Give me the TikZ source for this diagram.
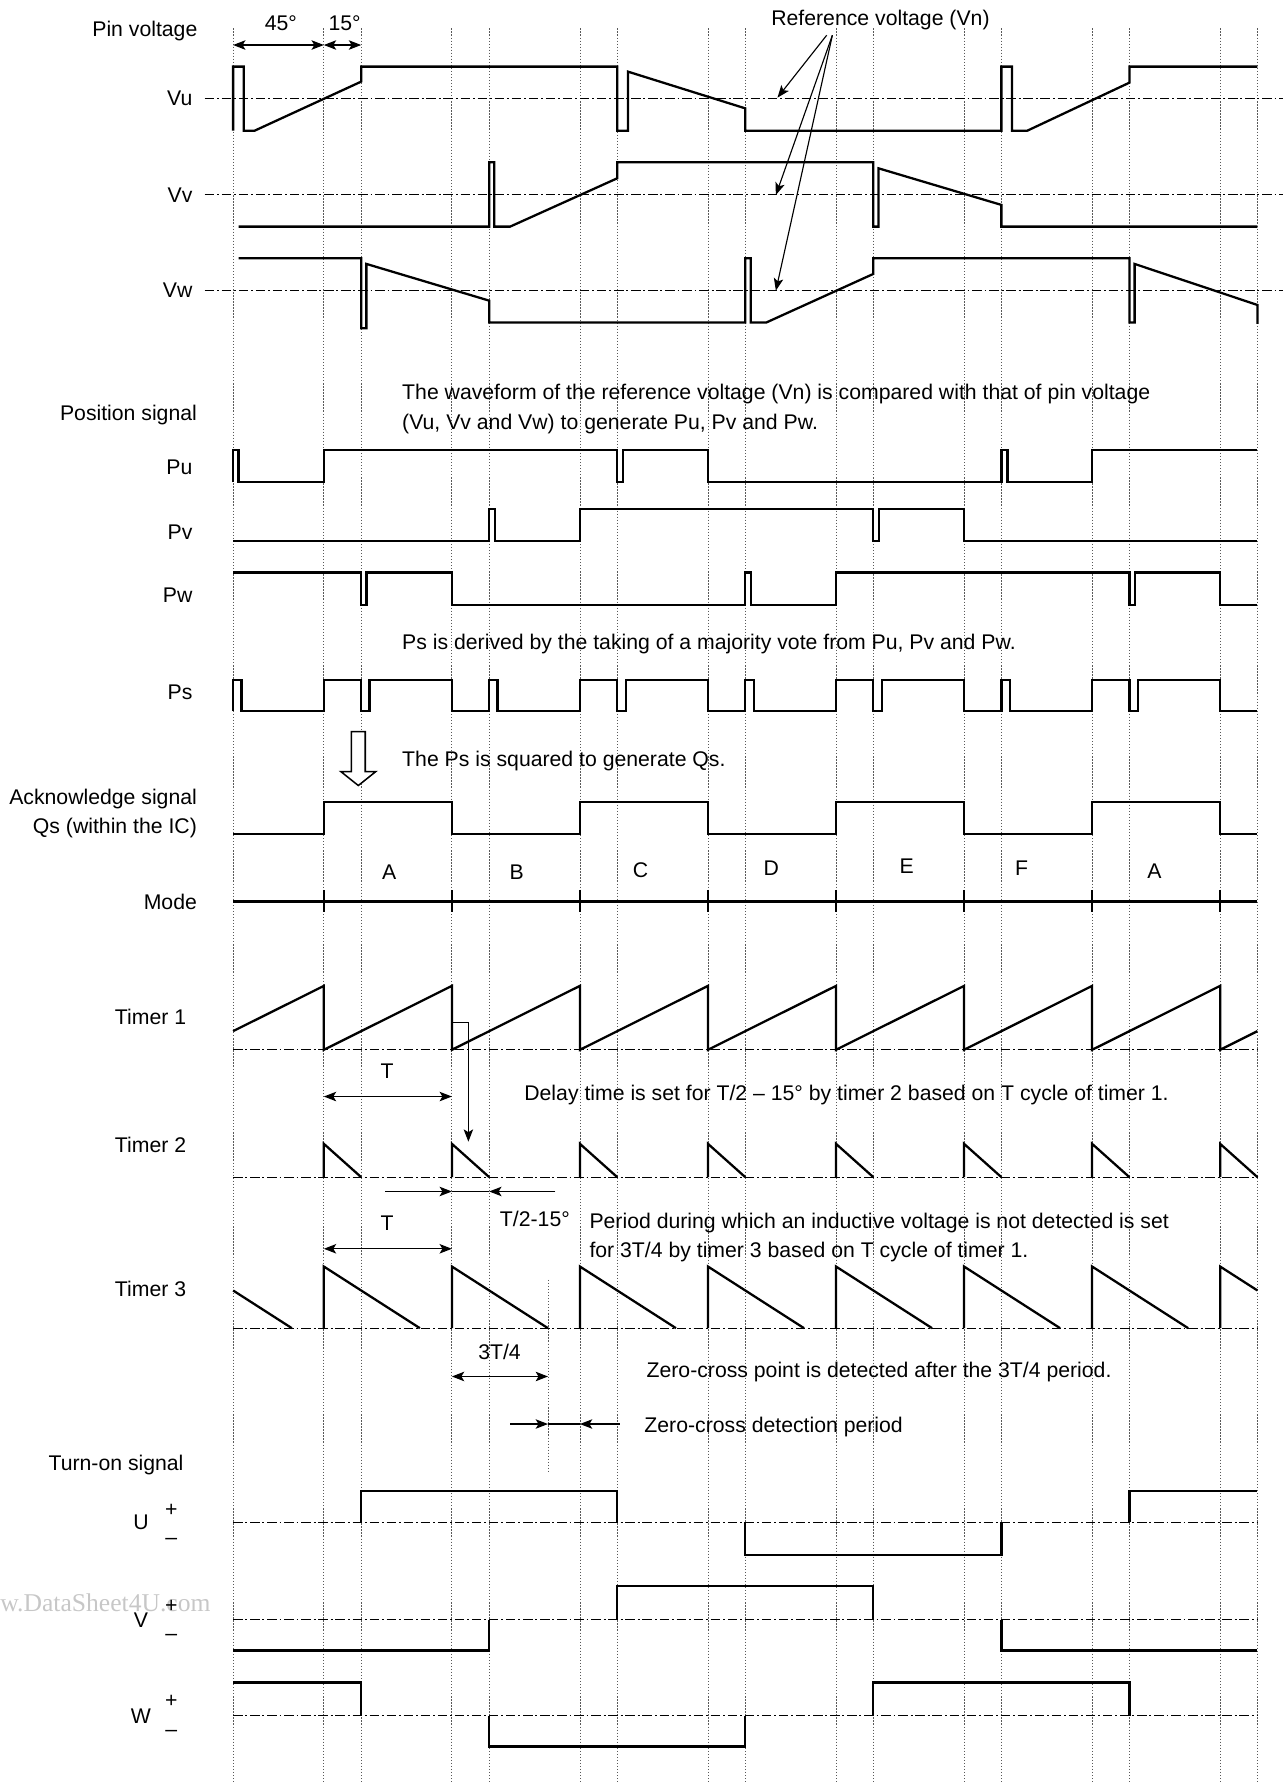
\documentclass[tikz,border=0pt]{standalone}
\usepackage{fontspec}
\setmainfont{Liberation Sans}
\newfontfamily\wmfont{Liberation Serif}
\usetikzlibrary{arrows.meta}
\begin{document}
\begin{tikzpicture}[x=0.6pt,y=-0.6pt,
  every node/.style={font=\fontsize{11.2}{13}\selectfont, inner sep=0pt, text height=8pt, text depth=0pt},
  >={Stealth[length=6.5pt,width=5pt,inset=1.5pt]},
  wave/.style={line width=1.2pt},
  refline/.style={line width=0.6pt, dash pattern=on 5pt off 1.5pt on 1pt off 1.5pt},
  gridline/.style={line width=0.45pt, black!65, dash pattern=on 0.7pt off 0.9pt},
  dim/.style={line width=0.6pt},
  thinline/.style={line width=0.5pt}]
\useasboundingbox (0,0) rectangle (1129,1568);
% grid
\foreach \x in {205,284.8,317.6,397.4,430.2,510,542.8,622.6,655.4,735.2,768,847.8,880.6,960.4,993.2,1073,1105.8}
  \draw[gridline] (\x,25) -- (\x,1568);
\draw[gridline] (481.9,1125.5) -- (481.9,1294);
% watermark
\node[anchor=west, font=\wmfont\fontsize{13.5}{15}\selectfont, text=black!22] (wm) at (0,1410.4) {w.DataSheet4U.com};
% reference lines
\draw[refline] (180,86.5) -- (1128,86.5);
\draw[refline] (180,170.9) -- (1128,170.9);
\draw[refline] (180,255.3) -- (1128,255.3);
% pin voltages
\draw[wave] (205,114.9) -- (205,58.6) -- (214.3,58.6) -- (214.3,114.9) -- (224,114.9) -- (317.6,71.8) -- (317.6,58.6) -- (542.8,58.6) -- (542.8,114.9) -- (552.2,114.9) -- (552.2,63) -- (655.4,95.3) -- (655.4,114.9) -- (880.6,114.9) -- (880.6,58.6) -- (889.9,58.6) -- (889.9,114.9) -- (903.5,114.9) -- (993.2,72.7) -- (993.2,58.6) -- (1105.8,58.6);
\draw[wave] (209.8,199.3) -- (430.2,199.3) -- (430.2,142.7) -- (434.7,142.7) -- (434.7,199.3) -- (448.6,199.3) -- (542.8,156.8) -- (542.8,142.7) -- (768,142.7) -- (768,199.3) -- (772.5,199.3) -- (772.5,148) -- (880.6,180.2) -- (880.6,199.3) -- (1105.8,199.3);
\draw[wave] (209.8,227.1) -- (317.6,227.1) -- (317.6,288.7) -- (322.2,288.7) -- (322.2,232.1) -- (430.2,264.4) -- (430.2,283.7) -- (655.4,283.7) -- (655.4,227.1) -- (660.2,227.1) -- (660.2,283.7) -- (673.7,283.7) -- (768,240.9) -- (768,227.1) -- (993.2,227.1) -- (993.2,283.7) -- (997.8,283.7) -- (997.8,232.1) -- (1105.8,268.2) -- (1105.8,284.9);
% angle dimensions
\draw[dim,<->] (205,39.6) -- (284.8,39.6);
\draw[dim,<->] (284.8,39.6) -- (317.6,39.6);
% reference voltage arrows
\draw[dim,->] (727,31) -- (683.7,85.9);
\draw[dim,->] (732,31) -- (682.3,171.5);
\draw[dim,->] (732,31) -- (682.3,255.6);
% position signals
\draw[wave] (205,424.1) -- (205,395.7) -- (209.8,395.7) -- (209.8,424.1) -- (284.8,424.1) -- (284.8,395.7) -- (542.8,395.7) -- (542.8,424.1) -- (547.7,424.1) -- (547.7,395.7) -- (622.6,395.7) -- (622.6,424.1) -- (880.6,424.1) -- (880.6,395.7) -- (886,395.7) -- (886,424.1) -- (960.4,424.1) -- (960.4,395.7) -- (1105.8,395.7);
\draw[wave] (205,475.7) -- (430.2,475.7) -- (430.2,447.8) -- (435.2,447.8) -- (435.2,475.7) -- (510,475.7) -- (510,447.8) -- (768,447.8) -- (768,475.7) -- (773.1,475.7) -- (773.1,447.8) -- (847.8,447.8) -- (847.8,475.7) -- (1105.8,475.7);
\draw[wave] (205,503.5) -- (317.6,503.5) -- (317.6,532) -- (322.2,532) -- (322.2,503.5) -- (397.4,503.5) -- (397.4,532) -- (655.4,532) -- (655.4,503.5) -- (660.3,503.5) -- (660.3,532) -- (735.2,532) -- (735.2,503.5) -- (993.2,503.5) -- (993.2,532) -- (998.4,532) -- (998.4,503.5) -- (1073,503.5) -- (1073,532) -- (1105.8,532);
% Ps
\draw[wave] (205,625.2) -- (205,597.9) -- (212.4,597.9) -- (212.4,625.2) -- (284.8,625.2) -- (284.8,597.9) -- (317.6,597.9) -- (317.6,625.2) -- (325,625.2) -- (325,597.9) -- (397.4,597.9) -- (397.4,625.2) -- (430.2,625.2) -- (430.2,597.9) -- (437.6,597.9) -- (437.6,625.2) -- (510,625.2) -- (510,597.9) -- (542.8,597.9) -- (542.8,625.2) -- (550.2,625.2) -- (550.2,597.9) -- (622.6,597.9) -- (622.6,625.2) -- (655.4,625.2) -- (655.4,597.9) -- (662.8,597.9) -- (662.8,625.2) -- (735.2,625.2) -- (735.2,597.9) -- (768,597.9) -- (768,625.2) -- (775.4,625.2) -- (775.4,597.9) -- (847.8,597.9) -- (847.8,625.2) -- (880.6,625.2) -- (880.6,597.9) -- (888,597.9) -- (888,625.2) -- (960.4,625.2) -- (960.4,597.9) -- (993.2,597.9) -- (993.2,625.2) -- (1000.6,625.2) -- (1000.6,597.9) -- (1073,597.9) -- (1073,625.2) -- (1105.8,625.2);
% hollow arrow
\draw[line width=0.8pt, fill=white] (309,643.4) -- (321.2,643.4) -- (321.2,678.5) -- (330.5,678.5) -- (315.1,690.8) -- (299.7,678.5) -- (309,678.5) -- cycle;
% Qs
\draw[wave] (205,733.6) -- (284.8,733.6) -- (284.8,705.5) -- (397.4,705.5) -- (397.4,733.6) -- (510,733.6) -- (510,705.5) -- (622.6,705.5) -- (622.6,733.6) -- (735.2,733.6) -- (735.2,705.5) -- (847.8,705.5) -- (847.8,733.6) -- (960.4,733.6) -- (960.4,705.5) -- (1073,705.5) -- (1073,733.6) -- (1105.8,733.6);
% Mode
\draw[wave] (205,792.8) -- (1105.8,792.8);
\foreach \b in {284.8,397.4,510,622.6,735.2,847.8,960.4,1073}
  \draw[wave] (\b,783.1) -- (\b,802.2);
% Timer 1
\draw[refline] (205,923.2) -- (1105.8,923.2);
\draw[wave] (205,906.8) -- (284.8,867) -- (284.8,923.2) -- (397.4,867) -- (397.4,923.2) -- (510,867) -- (510,923.2) -- (622.6,867) -- (622.6,923.2) -- (735.2,867) -- (735.2,923.2) -- (847.8,867) -- (847.8,923.2) -- (960.4,867) -- (960.4,923.2) -- (1073,867) -- (1073,923.2) -- (1105.8,906.8);
\draw[thinline,->] (397.4,899.2) -- (411.9,899.2) -- (411.9,1004);
\draw[dim,<->] (284.8,964.3) -- (397.4,964.3);
% Timer 2
\draw[refline] (205,1035.2) -- (1105.8,1035.2);
\foreach \b in {284.8,397.4,510,622.6,735.2,847.8,960.4,1073}
  \draw[wave] (\b,1035.2) -- (\b,1005.9) -- ({\b+32.8},1035.2);
\draw[dim,->] (338.6,1047.8) -- (397.4,1047.8);
\draw[dim] (397.4,1047.8) -- (430.2,1047.8);
\draw[dim,->] (488.5,1047.8) -- (430.2,1047.8);
\draw[dim,<->] (284.8,1098.2) -- (397.4,1098.2);
% Timer 3
\draw[refline] (205,1168) -- (1105.8,1168);
\draw[wave] (205,1134.85) -- (256.65,1168);
\foreach \b in {284.8,397.4,510,622.6,735.2,847.8,960.4}
  \draw[wave] (\b,1168) -- (\b,1113.8) -- ({\b+84.45},1168);
\draw[wave] (1073,1168) -- (1073,1113.8) -- (1105.8,1134.85);
\draw[dim,<->] (397.4,1210.5) -- (481.9,1210.5);
\draw[dim,->] (448.9,1252.3) -- (481.9,1252.3);
\draw[dim] (481.9,1252.3) -- (510,1252.3);
\draw[dim,->] (544.8,1252.3) -- (510,1252.3);
% Turn-on signals
\draw[refline] (205,1338.8) -- (1105.8,1338.8);
\draw[refline] (205,1424.4) -- (1105.8,1424.4);
\draw[refline] (205,1508.9) -- (1105.8,1508.9);
\draw[wave] (317.6,1338.8) -- (317.6,1311) -- (542.8,1311) -- (542.8,1338.8);
\draw[wave] (655.4,1338.8) -- (655.4,1367.3) -- (880.6,1367.3) -- (880.6,1338.8);
\draw[wave] (993.2,1338.8) -- (993.2,1311) -- (1105.8,1311);
\draw[wave] (205,1451.4) -- (430.2,1451.4) -- (430.2,1424.4);
\draw[wave] (542.8,1424.4) -- (542.8,1395) -- (768,1395) -- (768,1424.4);
\draw[wave] (880.6,1424.4) -- (880.6,1451.4) -- (1105.8,1451.4);
\draw[wave] (205,1479.5) -- (317.6,1479.5) -- (317.6,1508.9);
\draw[wave] (430.2,1508.9) -- (430.2,1535.8) -- (655.4,1535.8) -- (655.4,1508.9);
\draw[wave] (768,1508.9) -- (768,1479.5) -- (993.2,1479.5) -- (993.2,1508.9);
% labels
\node[anchor=east] (lpin) at (173.9,25.5) {Pin voltage};
\node[anchor=east] (lvu) at (169.5,86.5) {Vu};
\node[anchor=east] (lvv) at (169.5,171) {Vv};
\node[anchor=east] (lvw) at (169.5,255.3) {Vw};
\node (l45) at (247,20.5) {45°};
\node (l15) at (303,20.5) {15°};
\node (lref) at (774.3,16.1) {Reference voltage (Vn)};
\node[anchor=east] (lpos) at (173.5,363.4) {Position signal};
\node[anchor=west] (t1a) at (353.4,345) {The waveform of the reference voltage (Vn) is compared with that of pin voltage};
\node[anchor=west] (t1b) at (353.4,370.8) {(Vu, Vv and Vw) to generate Pu, Pv and Pw.};
\node[anchor=east] (lpu) at (169.5,410.9) {Pu};
\node[anchor=east] (lpv) at (169.5,467.5) {Pv};
\node[anchor=east] (lpw) at (169.5,523.2) {Pw};
\node[anchor=west] (t2) at (353.4,564.2) {Ps is derived by the taking of a majority vote from Pu, Pv and Pw.};
\node[anchor=east] (lps) at (169.5,608.2) {Ps};
\node[anchor=west] (t3) at (353.4,667.4) {The Ps is squared to generate Qs.};
\node[anchor=east] (lack) at (173.5,701) {Acknowledge signal};
\node[anchor=east] (lqs) at (173.5,726) {Qs (within the IC)};
\node[anchor=east] (lmode) at (173.5,792.8) {Mode};
\node (mA) at (342.3,767) {A};
\node (mB) at (454.5,767) {B};
\node (mC) at (563.2,765) {C};
\node (mD) at (678.2,763) {D};
\node (mE) at (797.3,761.5) {E};
\node (mF) at (898.3,763) {F};
\node (mA2) at (1015.2,765.5) {A};
\node[anchor=east] (lt1) at (164,894.5) {Timer 1};
\node (lT1) at (340.5,941.7) {T};
\node[anchor=west] (t4) at (460.8,960.8) {Delay time is set for T/2 \textendash{} 15° by timer 2 based on T cycle of timer 1.};
\node[anchor=east] (lt2) at (164,1006.8) {Timer 2};
\node (lT2) at (470.4,1071.8) {T/2-15°};
\node (lT3) at (340.5,1075.6) {T};
\node[anchor=west] (t5a) at (518.1,1073.6) {Period during which an inductive voltage is not detected is set};
\node[anchor=west] (t5b) at (518.1,1099.1) {for 3T/4 by timer 3 based on T cycle of timer 1.};
\node[anchor=east] (lt3) at (164,1133.4) {Timer 3};
\node (l34) at (439.3,1189) {3T/4};
\node[anchor=west] (t6) at (568.3,1204.6) {Zero-cross point is detected after the 3T/4 period.};
\node[anchor=west] (t7) at (566.4,1253) {Zero-cross detection period};
\node[anchor=east] (lturn) at (161.7,1286.7) {Turn-on signal};
\node (lU) at (124,1338.8) {U};
\node (lUp) at (150.6,1326.8) {+};
\node (lUm) at (150.6,1351.7) {\textendash};
\node (lV) at (124,1424.4) {V};
\node (lVp) at (150.6,1411.2) {+};
\node (lVm) at (150.6,1436.1) {\textendash};
\node (lW) at (124,1508.9) {W};
\node (lWp) at (150.6,1495.2) {+};
\node (lWm) at (150.6,1520.3) {\textendash};
\end{tikzpicture}
\end{document}
